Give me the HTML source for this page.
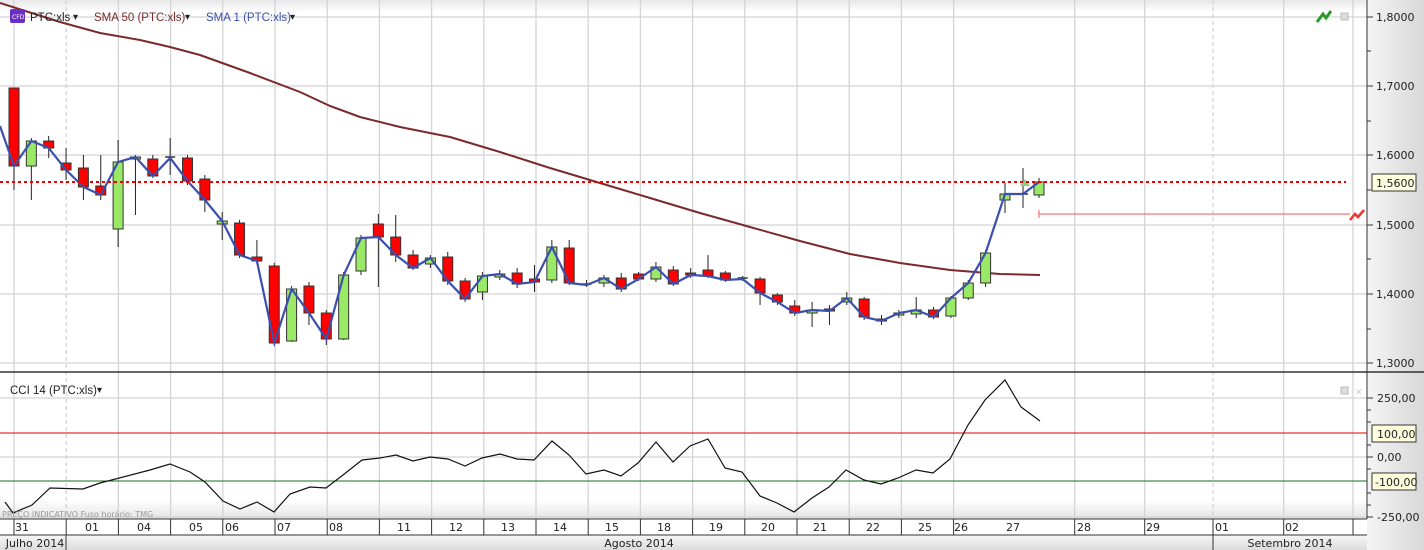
<!DOCTYPE html>
<html><head><meta charset="utf-8"><style>
body{margin:0;width:1424px;height:550px;overflow:hidden;background:#fff;font-family:"Liberation Sans",sans-serif}
svg{display:block}
text{font-family:"DejaVu Sans","Liberation Sans",sans-serif;font-size:11px;fill:#222}
text.lg{font-family:"Liberation Sans",sans-serif;font-size:11.5px}
</style></head><body>
<svg id="s" width="1424" height="550" xmlns="http://www.w3.org/2000/svg">
<defs>
<linearGradient id="ax" x1="0" x2="1"><stop offset="0" stop-color="#f4f4f4"/><stop offset="1" stop-color="#d8d8d8"/></linearGradient>
<linearGradient id="top" x1="0" y1="0" x2="0" y2="1"><stop offset="0" stop-color="#e8e8e8"/><stop offset="1" stop-color="#fff"/></linearGradient>
<linearGradient id="bot" x1="0" y1="0" x2="0" y2="1"><stop offset="0" stop-color="#fff"/><stop offset="1" stop-color="#e4e4e4"/></linearGradient>
<linearGradient id="mon" x1="0" y1="0" x2="0" y2="1"><stop offset="0" stop-color="#f6f6f6"/><stop offset="1" stop-color="#dcdcdc"/></linearGradient>
</defs>
<rect x="0" y="0" width="1367" height="12" fill="url(#top)"/>
<rect x="0" y="500" width="1367" height="19" fill="url(#bot)"/>
<rect x="1367" y="0" width="57" height="550" fill="url(#ax)"/>
<rect x="0" y="535" width="1367" height="15" fill="url(#mon)"/>
<g id="g"></g>
</svg>
<script>
var g=document.getElementById('g'),h='';
function L(x1,y1,x2,y2,c,w,d){h+='<line x1="'+x1+'" y1="'+y1+'" x2="'+x2+'" y2="'+y2+'" stroke="'+c+'" stroke-width="'+(w||1)+'"'+(d?' stroke-dasharray="'+d+'"':'')+'/>';}
function T(x,y,t,a,extra){h+='<text x="'+x+'" y="'+y+'"'+(a?' text-anchor="'+a+'"':'')+(extra||'')+'>'+t+'</text>';}
var vx=[];for(var i=0;i<19;i++)vx.push(14+i*52.2);vx=vx.concat([1074.7,1144.7,1213,1283.7,1353]);
vx.forEach(function(x,i){var d=(i==1||x==1213)?'4,3':null;L(x,0,x,519,'#d4d4d4',1.3,d);});
[17,86,155,225,294,363].forEach(function(y){L(0,y,1367,y,'#d4d4d4',1.3);});
[398,457,517].forEach(function(y){L(0,y,1367,y,'#d4d4d4',1.3);});
h+='<polyline fill="none" stroke="#7a2a2a" stroke-width="2" points="0,3 60,22 100,33 140,40 170,47 200,55 250,73 300,92 330,106 360,117 400,127 450,137 500,152 550,168 600,183 650,198 700,213 750,227 800,241 850,254 900,263 950,270 1000,274 1040,275"/>';
var C=[[88,166,88,190],[166,141,138,200],[141,148,136,158],[163,170,148,180],[168,187,155,200],[186,195,155,200],[229,162,140,247],[159,157,155,215],[159,176,155,178],[157,158,138,175],[158,181,155,185],[179,200,175,212],[224,221,212,240],[223,255,220,258],[257,261,240,262],[266,343,263,345],[341,289,286,342],[286,313,282,325],[313,339,310,345],[339,275,272,340],[271,238,235,275],[224,237,214,287],[237,255,215,262],[255,268,250,270],[264,258,255,268],[257,281,252,285],[281,299,278,302],[292,276,272,300],[277,274,270,280],[273,284,268,288],[279,282,265,292],[280,247,240,283],[248,283,240,285],[284,285,280,287],[283,278,275,287],[278,289,273,292],[274,279,272,281],[279,267,262,282],[270,284,266,286],[273,275,268,278],[270,276,255,278],[273,280,271,282],[278,279,276,281],[279,293,277,305],[295,302,293,305],[306,313,300,316],[313,310,302,327],[309,311,305,325],[302,298,292,305],[299,317,297,320],[319,321,315,325],[315,313,310,318],[314,310,297,318],[310,317,307,319],[316,298,296,318],[298,283,280,300],[283,253,250,287],[200,194,183,213],[194,194,168,208],[195,182,178,198]];
var cl='';
C.forEach(function(c,i){var x=14+i*17.35;if(i==58)x=1023;if(i==59)x=1039;if(i==57)x=1005;
L(x,c[2],x,c[3],'#222',1);var t=Math.min(c[0],c[1]),b=Math.max(c[0],c[1]);if(b-t<2){L(x-5,t,x+5,t,'#333',1.5);}else h+='<rect x="'+(x-5)+'" y="'+t+'" width="10" height="'+(b-t)+'" fill="'+(c[1]<c[0]?'#99e866':'#f00')+'" stroke="#333" stroke-width="1"/>';
cl+=x.toFixed(1)+','+c[1]+' ';});
h+='<polyline fill="none" stroke="#3a4fae" stroke-width="2.2" points="0,126 '+cl+'"/>';
h+='<polygon points="1020,186 1025,179 1030,186" fill="#7fd67f"/>';
L(0,182,1346,182,'#e00',2,'3,3');
L(1039,214,1350,214,'#f55',1);L(1039,210,1039,218,'#f55',1);
L(1367,0,1367,519,'#333',1);
[[17,'1,8000'],[86,'1,7000'],[155,'1,6000'],[225,'1,5000'],[294,'1,4000'],[363,'1,3000']].forEach(function(a){L(1367,a[0],1373,a[0],'#333');T(1376,a[0]+4,a[1]);});
[51,121,190,259,329].forEach(function(y){L(1367,y,1371,y,'#333');});
h+='<rect x="1372" y="174" width="44" height="17" fill="#ffffe0" stroke="#333"/>';T(1376,187,'1,5600');
L(0,372,1424,372,'#333',1.5);
L(0,433,1367,433,'#d00',1);L(0,481,1367,481,'#1a6e1a',1);
h+='<polyline fill="none" stroke="#111" stroke-width="1.2" points="5,502 13,513 32,505 50,488 83,489 100,483 150,470 170,464 190,472 205,482 223,501 240,509 257,502 274,512 290,494 310,487 326,488 343,475 362,460 380,458 396,455 413,461 430,457 448,459 465,466 482,458 500,454 517,459 534,460 552,441 569,455 586,474 604,470 621,476 638,463 656,442 673,462 690,446 708,439 725,468 742,472 760,496 777,503 794,512 812,498 829,487 846,470 864,480 881,484 898,478 916,470 933,473 950,459 968,425 985,400 1005,380 1021,407 1040,421"/>';
[[398,'250,00'],[457,'0,00'],[517,'-250,00']].forEach(function(a){L(1367,a[0],1373,a[0],'#333');T(1377,a[0]+4,a[1]);});
[410,422,445,469,493,505].forEach(function(y){L(1367,y,1371,y,'#333');});
h+='<rect x="1372" y="425" width="44" height="17" fill="#ffffe0" stroke="#333"/>';T(1377,438,'100,00');
h+='<rect x="1372" y="473" width="44" height="17" fill="#ffffe0" stroke="#333"/>';T(1375,486,'-100,00');
L(0,519,1367,519,'#333',1);L(0,535,1367,535,'#333',1);
vx.forEach(function(x){L(x,519,x,535,'#333',1);});
[[22,'31'],[92,'01'],[144,'04'],[196,'05'],[232,'06'],[284,'07'],[336,'08'],[404,'11'],[456,'12'],[508,'13'],[560,'14'],[612,'15'],[664,'18'],[716,'19'],[768,'20'],[820,'21'],[873,'22'],[925,'25'],[961,'26'],[1013,'27'],[1084,'28'],[1153,'29'],[1222,'01'],[1292,'02']].forEach(function(a){T(a[0],531,a[1],'middle');});
L(66,535,66,550,'#333');L(1213,535,1213,550,'#333');
T(35,547,'Julho 2014','middle');T(639,547,'Agosto 2014','middle');T(1290,547,'Setembro 2014','middle');
h+='<text x="2" y="517" style="font-size:8px;fill:#999">PREÇO INDICATIVO   Fuso horário: TMG</text>';
h+='<rect x="10" y="9" width="15" height="14" rx="2" fill="#6a2fc8"/><text x="12" y="19" style="font-size:6px;fill:#fff">CFD</text>';
T(30,21,'PTC:xls','',' class="lg"');T(73,20,'▾','',' style="font-size:10px"');
T(94,21,'SMA 50 (PTC:xls)','',' class="lg" style="fill:#7a2a2a"');T(185,20,'▾','',' style="font-size:10px"');
T(206,21,'SMA 1 (PTC:xls)','',' class="lg" style="fill:#3a4fae"');T(290,20,'▾','',' style="font-size:10px"');
T(10,394,'CCI 14 (PTC:xls)','',' class="lg"');T(97,393,'▾','',' style="font-size:10px"');
h+='<path d="M1317,22 L1323,14 L1326,18 L1331,11" stroke="#2a9a2a" stroke-width="3" fill="none"/>';
h+='<rect x="1341" y="13" width="7" height="7" fill="#ddd" stroke="#bbb"/>';
h+='<rect x="1341" y="387" width="7" height="7" fill="#ddd" stroke="#bbb"/><text x="1355" y="395" style="font-size:9px;fill:#ccc">✕</text>';
h+='<path d="M1350,220 L1355,214 L1358,217 L1364,210" stroke="#e33" stroke-width="2.5" fill="none"/>';
g.innerHTML=h;
</script>
</body></html>
